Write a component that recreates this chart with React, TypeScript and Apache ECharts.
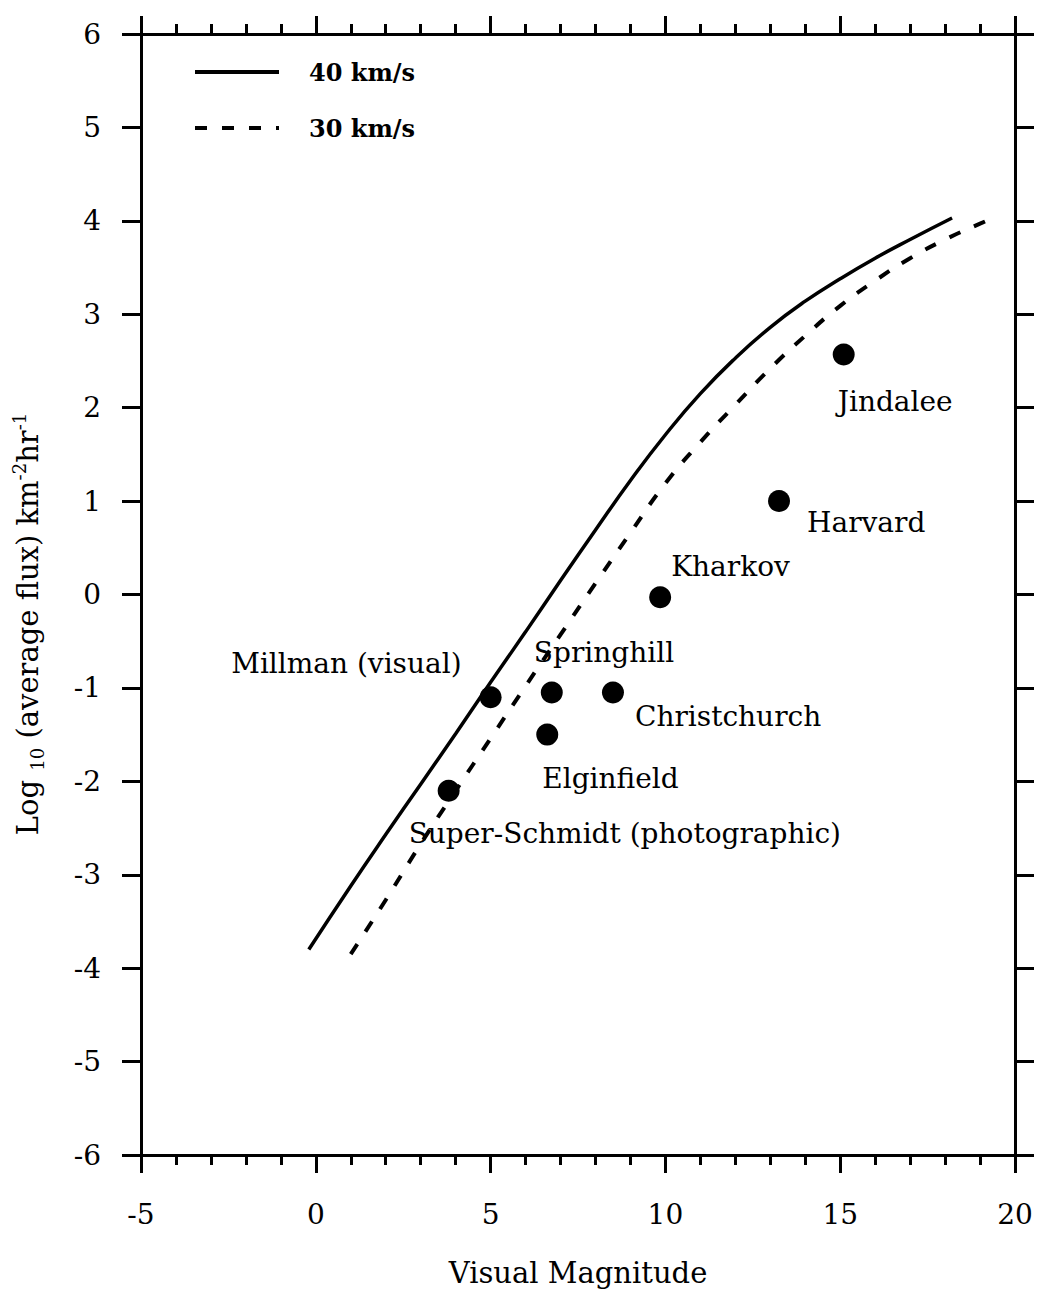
import React, { useEffect, useRef } from "react";
import * as echarts from "echarts";

// ---- data ----
const stationNames = [
  "Super-Schmidt (photographic)",
  "Millman (visual)",
  "Springhill",
  "Elginfield",
  "Christchurch",
  "Kharkov",
  "Harvard",
  "Jindalee",
];
const stationMag = [3.8, 5.0, 6.75, 6.62, 8.5, 9.85, 13.25, 15.1];
const stationFlux = [-2.1, -1.1, -1.05, -1.5, -1.05, -0.03, 1.0, 2.57];

const curve40Mag = [-0.2, 1, 2, 3, 4, 5, 6, 7, 8, 9, 10, 11, 12, 13, 14, 15, 16, 17, 18.2];
const curve40Flux = [-3.8, -3.12, -2.57, -2.03, -1.49, -0.94, -0.4, 0.15, 0.69, 1.22, 1.71, 2.15, 2.53, 2.86, 3.14, 3.38, 3.6, 3.8, 4.03];

const curve30Mag = [1.0, 2, 3, 4, 5, 6, 7, 8, 9, 10, 11, 12, 13, 14, 15, 16, 17, 18, 19, 19.5];
const curve30Flux = [-3.85, -3.27, -2.67, -2.1, -1.54, -0.98, -0.43, 0.12, 0.66, 1.19, 1.63, 2.03, 2.42, 2.77, 3.09, 3.36, 3.6, 3.8, 3.97, 4.05];

const seriesNames = ["40 km/s", "30 km/s"];
const xRange = [-5, 20];
const yRange = [-6, 6];

// label layout (offset from point centre, alignment)
const labelLayout: { dx: number; dy: number; align: string }[] = [
  { dx: -40, dy: 43, align: "left" },
  { dx: -29, dy: -34, align: "right" },
  { dx: -18, dy: -40, align: "left" },
  { dx: -5, dy: 44, align: "left" },
  { dx: 22, dy: 24, align: "left" },
  { dx: 11, dy: -31, align: "left" },
  { dx: 28, dy: 21, align: "left" },
  { dx: -6, dy: 47, align: "left" },
];

const FONT = "DejaVu Serif";

export default function App() {
  const ref = useRef<HTMLDivElement>(null);
  useEffect(() => {
    document.body.style.margin = "0";
    const chart = echarts.init(ref.current!, null, { renderer: "svg" });
    const axisLine = { show: true, onZero: false, lineStyle: { color: "#000", width: 3 } };
    const xBase = {
      type: "value",
      min: xRange[0],
      max: xRange[1],
      interval: 5,
      splitLine: { show: false },
      axisLine,
      axisTick: { show: true, inside: false, length: 18, lineStyle: { color: "#000", width: 3 } },
      minorTick: { show: true, splitNumber: 5, length: 10, lineStyle: { color: "#000", width: 3 } },
      minorSplitLine: { show: false },
    };
    const yBase = {
      type: "value",
      min: yRange[0],
      max: yRange[1],
      interval: 1,
      splitLine: { show: false },
      axisLine,
      axisTick: { show: true, inside: false, length: 19, lineStyle: { color: "#000", width: 3 } },
    };
    const option: any = {
      animation: false,
      backgroundColor: "#fff",
      grid: { left: 141, right: 22, top: 34, bottom: 137, containLabel: false },
      legend: {
        data: seriesNames,
        orient: "vertical",
        left: 188,
        top: 55,
        itemWidth: 84,
        itemHeight: 24,
        itemGap: 32,
        itemStyle: { opacity: 0 },
        lineStyle: { width: 4 },
        textStyle: { fontFamily: FONT, fontSize: 24, fontWeight: "bold", color: "#000", padding: [0, 0, 0, 25] },
        selectedMode: false,
      },
      xAxis: [
        {
          ...xBase,
          position: "bottom",
          axisLabel: { show: true, margin: 45, fontFamily: FONT, fontSize: 28, color: "#000" },
          name: "Visual Magnitude",
          nameLocation: "middle",
          nameGap: 103,
          nameTextStyle: { fontFamily: FONT, fontSize: 29, color: "#000" },
        },
        { ...xBase, position: "top", axisLabel: { show: false } },
      ],
      yAxis: [
        {
          ...yBase,
          position: "left",
          axisLabel: { show: true, margin: 40, fontFamily: FONT, fontSize: 28, color: "#000" },
        },
        { ...yBase, position: "right", axisLabel: { show: false } },
      ],
      graphic: [
        {
          type: "text",
          x: 28,
          y: 624,
          rotation: Math.PI / 2,
          style: {
            text: "{a|Log }{sub|10}{a| (average flux) km}{sup|-2}{a|hr}{sup|-1}",
            align: "center",
            verticalAlign: "middle",
            fill: "#000",
            rich: {
              a: { fontFamily: FONT, fontSize: 29, lineHeight: 36, fill: "#000" },
              sub: { fontFamily: FONT, fontSize: 18, verticalAlign: "bottom", fill: "#000" },
              sup: { fontFamily: FONT, fontSize: 18, verticalAlign: "top", fill: "#000" },
            },
          },
        },
      ],
      series: [
        {
          name: seriesNames[0],
          type: "line",
          smooth: true,
          symbol: "none",
          data: curve40Mag.map((m, i) => [m, curve40Flux[i]]),
          lineStyle: { color: "#000", width: 3.5, type: "solid" },
          itemStyle: { color: "#000" },
        },
        {
          name: seriesNames[1],
          type: "line",
          smooth: true,
          symbol: "none",
          data: curve30Mag.map((m, i) => [m, curve30Flux[i]]),
          lineStyle: { color: "#000", width: 4, type: [12, 15], cap: "butt" },
          itemStyle: { color: "#000" },
        },
        {
          name: "stations",
          type: "scatter",
          symbol: "circle",
          symbolSize: 22,
          itemStyle: { color: "#000", opacity: 1 },
          data: stationNames.map((n, i) => ({
            name: n,
            value: [stationMag[i], stationFlux[i]],
            label: {
              show: true,
              position: "inside",
              formatter: n,
              offset: [labelLayout[i].dx, labelLayout[i].dy],
              align: labelLayout[i].align,
              verticalAlign: "middle",
              fontFamily: FONT,
              fontSize: 28,
              color: "#000",
            },
          })),
        },
      ],
    };
    chart.setOption(option);
    return () => chart.dispose();
  }, []);
  return (
    <div
      ref={ref}
      style={{ position: "fixed", left: 0, top: 0, width: 1037, height: 1292, background: "#fff" }}
    />
  );
}
